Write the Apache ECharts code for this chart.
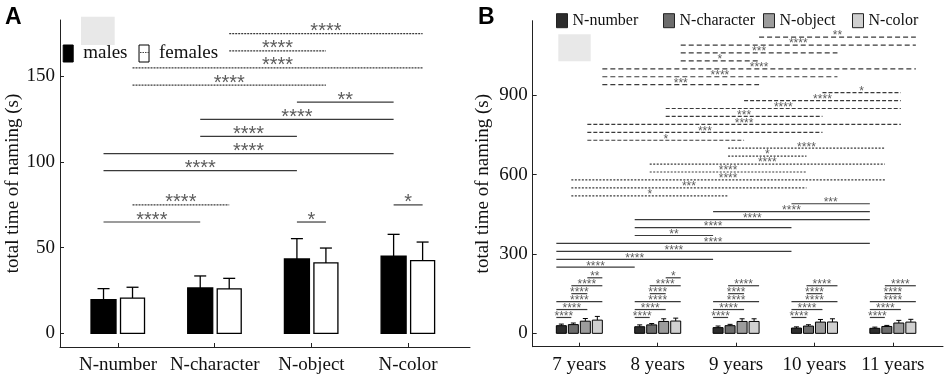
<!DOCTYPE html>
<html>
<head>
<meta charset="utf-8">
<script src="https://cdn.jsdelivr.net/npm/echarts@6/dist/echarts.min.js"></script>
<style>
  html, body { margin: 0; padding: 0; background: #fff; }
  #chart { width: 945px; height: 377px; }
</style>
</head>
<body>
<div id="chart"></div>
<script>
// panel A: naming time by sex
const catsA = ['N-number', 'N-character', 'N-object', 'N-color']
const malesMean = [19.6, 26.5, 43.4, 45.0]
const malesErr = [6.5, 7.0, 11.9, 12.8]
const femalesMean = [20.6, 25.9, 41.1, 42.4]
const femalesErr = [6.3, 6.2, 8.7, 10.9]
const ticksA = [0, 50, 100, 150]
// [cat1, sex1, cat2, sex2, level, label]
const sigA = [
  [1, 'f', 3, 'f', 175, '****'],
  [1, 'f', 2, 'f', 165, '****'],
  [0, 'f', 3, 'f', 155, '****'],
  [0, 'f', 2, 'f', 145, '****'],
  [2, 'm', 3, 'm', 135, '**'],
  [1, 'm', 3, 'm', 125, '****'],
  [1, 'm', 2, 'm', 115, '****'],
  [0, 'm', 3, 'm', 105, '****'],
  [0, 'm', 2, 'm', 95, '****'],
  [0, 'f', 1, 'f', 75, '****'],
  [3, 'm', 3, 'f', 75, '*'],
  [0, 'm', 1, 'm', 65, '****'],
  [2, 'm', 2, 'f', 65, '*']
]

// panel B: naming time by age
const ages = ['7 years', '8 years', '9 years', '10 years', '11 years']
const measures = ['N-number', 'N-character', 'N-object', 'N-color']
const nNumber = [29, 25, 21.6, 20, 19]
const nNumberErr = [6, 7, 6, 4.5, 4.5]
const nCharacter = [33, 32, 29, 27.5, 26]
const nCharacterErr = [6, 5, 5, 5, 4]
const nObject = [46, 45, 45, 42.5, 39]
const nObjectErr = [10, 10, 10, 10, 10]
const nColor = [50, 46.5, 45, 43, 42.5]
const nColorErr = [14, 11, 10, 12, 10.5]
const ticksB = [0, 300, 600, 900]
// [age1, measure1, age2, measure2, level, label]
const sigB = [
  [2, 3, 4, 3, 1120, '**'],
  [1, 3, 4, 3, 1090, '****'],
  [1, 3, 3, 3, 1060, '***'],
  [1, 3, 2, 3, 1030, '*'],
  [0, 3, 4, 3, 1000, '****'],
  [0, 3, 3, 3, 970, '****'],
  [0, 3, 2, 3, 940, '***'],
  [3, 2, 4, 2, 910, '*'],
  [2, 2, 4, 2, 880, '****'],
  [1, 2, 4, 2, 850, '****'],
  [1, 2, 3, 2, 820, '***'],
  [0, 2, 4, 2, 790, '****'],
  [0, 2, 3, 2, 760, '***'],
  [0, 2, 2, 2, 730, '*'],
  [2, 1, 4, 1, 700, '****'],
  [2, 1, 3, 1, 670, '*'],
  [1, 1, 4, 1, 640, '****'],
  [1, 1, 3, 1, 610, '****'],
  [0, 1, 4, 1, 580, '****'],
  [0, 1, 3, 1, 550, '***'],
  [0, 1, 2, 1, 520, '*'],
  [3, 0, 4, 0, 490, '***'],
  [2, 0, 4, 0, 460, '****'],
  [1, 0, 4, 0, 430, '****'],
  [1, 0, 3, 0, 400, '****'],
  [1, 0, 2, 0, 370, '**'],
  [0, 0, 4, 0, 340, '****'],
  [0, 0, 3, 0, 310, '****'],
  [0, 0, 2, 0, 280, '****'],
  [0, 0, 1, 0, 250, '****'],
  // within each age group
  [0, 2, 0, 3, 210, '**'],
  [0, 1, 0, 3, 180, '****'],
  [0, 1, 0, 2, 150, '****'],
  [0, 0, 0, 3, 120, '****'],
  [0, 0, 0, 2, 90, '****'],
  [0, 0, 0, 1, 60, '****'],
  [1, 2, 1, 3, 210, '*'],
  [1, 1, 1, 3, 180, '****'],
  [1, 1, 1, 2, 150, '****'],
  [1, 0, 1, 3, 120, '****'],
  [1, 0, 1, 2, 90, '****'],
  [1, 0, 1, 1, 60, '****'],
  [2, 1, 2, 3, 180, '****'],
  [2, 1, 2, 2, 150, '****'],
  [2, 0, 2, 3, 120, '****'],
  [2, 0, 2, 2, 90, '****'],
  [2, 0, 2, 1, 60, '****'],
  [3, 1, 3, 3, 180, '****'],
  [3, 1, 3, 2, 150, '****'],
  [3, 0, 3, 3, 120, '****'],
  [3, 0, 3, 2, 90, '****'],
  [3, 0, 3, 1, 60, '****'],
  [4, 1, 4, 3, 180, '****'],
  [4, 1, 4, 2, 150, '****'],
  [4, 0, 4, 3, 120, '****'],
  [4, 0, 4, 2, 90, '****'],
  [4, 0, 4, 1, 60, '****']
]

const serif = "'Liberation Serif', 'Times New Roman', serif"
const sans = "'Liberation Sans', Arial, sans-serif"
const lineColor = '#3a3a3a'
const starColor = '#5c5c5c'

const sexOff = { m: -14.5, f: 14.5 }
const barOffB = [-18, -6, 6, 18]
const lineOffB = [-23, -8, 8, 23]
const dashB = [null, [2, 1.5], [4, 2], [5, 3]]
const fillB = ['#2c2c2c', '#6c6c6c', '#9c9c9c', '#d0d0d0']
const legendLeftB = [556, 663, 763, 852]

function barRender(off, width, fill, lw, cap) {
  return function (params, api) {
    const x = api.value(0)
    const m = api.value(1)
    const e = api.value(2)
    const base = api.coord([x, 0])
    const top = api.coord([x, m])
    const etop = api.coord([x, m + e])
    const cx = base[0] + off
    return {
      type: 'group',
      children: [
        { type: 'line', shape: { x1: cx, y1: top[1], x2: cx, y2: etop[1] }, style: { stroke: '#000', lineWidth: lw } },
        { type: 'line', shape: { x1: cx - cap / 2, y1: etop[1], x2: cx + cap / 2, y2: etop[1] }, style: { stroke: '#000', lineWidth: lw } },
        { type: 'rect', shape: { x: cx - width / 2, y: top[1], width: width, height: base[1] - top[1] }, style: { fill: fill, stroke: '#000', lineWidth: lw } }
      ]
    }
  }
}

function sigRender(rows, offFn, dashFn, fontSize, dy) {
  return function (params, api) {
    const r = rows[params.dataIndex]
    const p1 = api.coord([api.value(0), api.value(2)])
    const p2 = api.coord([api.value(1), api.value(2)])
    const x1 = p1[0] + offFn(r[1])
    const x2 = p2[0] + offFn(r[3])
    const dash = dashFn(r)
    return {
      type: 'group',
      children: [
        { type: 'line', shape: { x1: x1, y1: p1[1], x2: x2, y2: p1[1] },
          style: { stroke: lineColor, lineWidth: 1.2, lineDash: dash || null } },
        { type: 'text', style: { text: r[5], x: (x1 + x2) / 2, y: p1[1] - dy, align: 'center', verticalAlign: 'middle',
          fontFamily: sans, fontSize: fontSize, fill: starColor } }
      ]
    }
  }
}

function valueAxisX(grid, min, max, ticks, labels) {
  return {
    type: 'value', gridIndex: grid, min: min, max: max,
    axisLine: { show: true, onZero: false, lineStyle: { color: '#222', width: 1 } },
    axisTick: { show: true, inside: true, length: 4, customValues: ticks, lineStyle: { color: '#222' } },
    axisLabel: { customValues: ticks, formatter: v => labels[Math.round(v) - 1], fontFamily: serif, fontSize: 19, color: '#111', margin: 9 },
    splitLine: { show: false }
  }
}

function valueAxisY(grid, min, max, ticks, gap) {
  return {
    type: 'value', gridIndex: grid, min: min, max: max,
    name: 'total time of naming (s)', nameLocation: 'middle', nameGap: gap,
    nameTextStyle: { fontFamily: serif, fontSize: 19, color: '#111' },
    axisLine: { show: true, onZero: false, lineStyle: { color: '#222', width: 1 } },
    axisTick: { show: true, inside: true, length: 4, customValues: ticks, lineStyle: { color: '#222' } },
    axisLabel: { customValues: ticks, fontFamily: serif, fontSize: 19, color: '#111', margin: 5 },
    splitLine: { show: false }
  }
}

const myChart = echarts.init(document.getElementById('chart'), null, { renderer: 'canvas' })

const seriesB = measures.map((name, k) => {
  const means = [nNumber, nCharacter, nObject, nColor][k]
  const errs = [nNumberErr, nCharacterErr, nObjectErr, nColorErr][k]
  return {
    name: name, type: 'custom', xAxisIndex: 1, yAxisIndex: 1,
    itemStyle: { color: fillB[k] },
    renderItem: barRender(barOffB[k], 10, fillB[k], 1, 5),
    encode: { x: 0, y: 1 },
    data: means.map((v, i) => [i + 1, v, errs[i]])
  }
})

// one small legend per measure so each sits where the figure puts it
const legendsB = measures.map((m, k) => ({
  left: legendLeftB[k], top: 12.7, padding: 0, itemWidth: 11, itemHeight: 14, icon: 'rect',
  textStyle: { fontFamily: serif, fontSize: 16, color: '#111' },
  data: [{ name: m, itemStyle: { color: fillB[k], borderColor: '#222', borderWidth: 1 } }]
}))

const options = {
  animation: false,
  backgroundColor: '#fff',
  grid: [
    { left: 60, top: 20, width: 410, height: 327 },
    { left: 532.7, top: 20.7, width: 410.3, height: 326 }
  ],
  xAxis: [
    valueAxisX(0, 0.4, 4.64, [1, 2, 3, 4], catsA),
    valueAxisX(1, 0.405, 5.64, [1, 2, 3, 4, 5], ages)
  ],
  yAxis: [
    valueAxisY(0, -8, 183, ticksA, 37),
    valueAxisY(1, -50.5, 1182, ticksB, 40)
  ],
  legend: [
    {
      left: 62.7, top: 44, padding: 0, itemWidth: 10, itemHeight: 17, itemGap: 11, icon: 'rect',
      textStyle: { fontFamily: serif, fontSize: 19, color: '#111', padding: [0, 0, 0, 5] },
      data: [
        { name: 'males', itemStyle: { color: '#000', borderColor: '#000', borderWidth: 1 } },
        { name: 'females', itemStyle: { color: '#fff', borderColor: '#000', borderWidth: 1 } }
      ]
    },
    ...legendsB
  ],
  graphic: [
    { type: 'text', left: 5, top: 6, style: { text: 'A', fontFamily: sans, fontWeight: 'bold', fontSize: 23, fill: '#000' } },
    { type: 'text', left: 478, top: 6, style: { text: 'B', fontFamily: sans, fontWeight: 'bold', fontSize: 23, fill: '#000' } },
    { type: 'rect', shape: { x: 81, y: 16.7, width: 33.7, height: 28.3 }, style: { fill: '#e8e8e8' } },
    { type: 'rect', shape: { x: 558.3, y: 34.3, width: 32.4, height: 27 }, style: { fill: '#e8e8e8' } },
    { type: 'line', z: 100, shape: { x1: 140, y1: 52.5, x2: 149, y2: 52.5 }, style: { stroke: '#444', lineWidth: 1, lineDash: [1.5, 1] } }
  ],
  series: [
    {
      name: 'males', type: 'custom', xAxisIndex: 0, yAxisIndex: 0,
      itemStyle: { color: '#000' },
      renderItem: barRender(sexOff.m, 25, '#000', 1.3, 12),
      encode: { x: 0, y: 1 },
      data: malesMean.map((v, i) => [i + 1, v, malesErr[i]])
    },
    {
      name: 'females', type: 'custom', xAxisIndex: 0, yAxisIndex: 0,
      itemStyle: { color: '#fff' },
      renderItem: barRender(sexOff.f, 24, '#fff', 1.3, 12),
      encode: { x: 0, y: 1 },
      data: femalesMean.map((v, i) => [i + 1, v, femalesErr[i]])
    },
    {
      type: 'custom', xAxisIndex: 0, yAxisIndex: 0, silent: true,
      renderItem: sigRender(sigA, s => sexOff[s], r => (r[1] === 'f' && r[3] === 'f') ? [2, 1] : null, 20, 2),
      encode: { x: [0, 1], y: 2 },
      data: sigA.map(r => [r[0] + 1, r[2] + 1, r[4]])
    },
    ...seriesB,
    {
      type: 'custom', xAxisIndex: 1, yAxisIndex: 1, silent: true,
      renderItem: sigRender(sigB, m => lineOffB[m], r => r[0] === r[2] ? null : dashB[r[1]], 12, 1),
      encode: { x: [0, 1], y: 2 },
      data: sigB.map(r => [r[0] + 1, r[2] + 1, r[4]])
    }
  ]
}

myChart.setOption(options)
</script>
</body>
</html>
